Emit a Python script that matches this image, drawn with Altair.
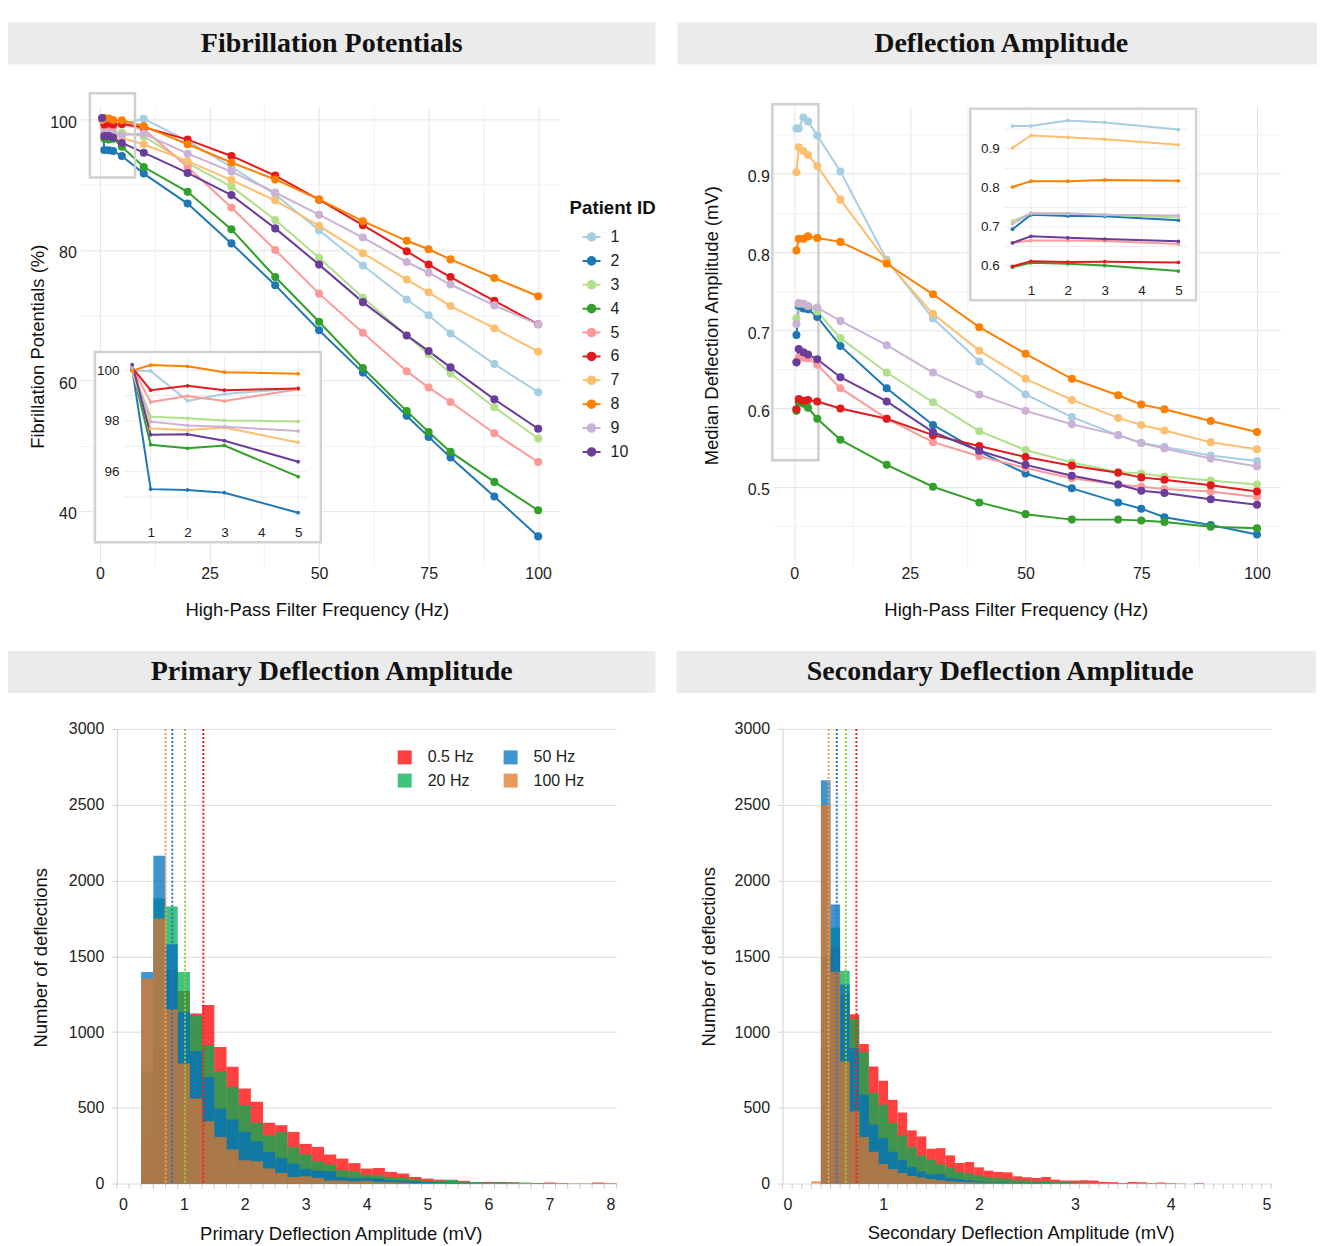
import altair as alt
import pandas as pd

# ---------------------------------------------------------------- data
freqs = [0.5, 1, 2, 3, 5, 10, 20, 30, 40, 50, 60, 70, 75, 80, 90, 100]
patient_ids = [1, 2, 3, 4, 5, 6, 7, 8, 9, 10]
patient_colors = ["#a6cee3", "#1f78b4", "#b2df8a", "#33a02c", "#fb9a99",
                  "#e31a1c", "#fdbf6f", "#ff7f00", "#cab2d6", "#6a3d9a"]

# Fibrillation potentials (%)
fib_1 = [99.98, 99.97, 98.79, 99.06, 99.28, 100.1, 96.7, 92.7, 88.5, 83.0, 77.6, 72.4, 70.0, 67.2, 62.5, 58.2]
fib_2 = [100.05, 95.31, 95.28, 95.17, 94.38, 91.7, 87.1, 81.0, 74.6, 67.7, 61.2, 54.6, 51.35, 48.2, 42.2, 36.1]
fib_3 = [100.05, 98.16, 98.1, 98.02, 97.98, 97.4, 93.3, 89.7, 84.6, 78.8, 72.7, 66.9, 64.0, 61.05, 55.9, 51.1]
fib_4 = [100.05, 97.06, 96.92, 97.03, 95.8, 92.7, 88.9, 83.15, 75.85, 69.0, 61.9, 55.3, 52.1, 49.05, 44.45, 40.1]
fib_5 = [100.1, 98.74, 98.98, 98.78, 99.25, 98.5, 92.7, 86.5, 80.0, 73.3, 67.3, 61.4, 58.9, 56.7, 51.9, 47.5]
fib_6 = [100.1, 99.21, 99.38, 99.21, 99.28, 98.8, 96.9, 94.4, 91.4, 87.7, 83.8, 79.8, 77.75, 75.85, 72.2, 68.6]
fib_7 = [99.95, 97.7, 97.64, 97.74, 97.15, 96.2, 93.6, 90.7, 87.6, 83.7, 79.5, 75.45, 73.5, 71.4, 68.0, 64.4]
fib_8 = [99.98, 100.2, 100.15, 99.92, 99.86, 98.97, 96.2, 93.4, 90.8, 87.75, 84.4, 81.4, 80.1, 78.55, 75.7, 72.9]
fib_9 = [100.1, 97.97, 97.82, 97.77, 97.6, 97.8, 94.75, 92.0, 88.8, 85.4, 81.9, 78.15, 76.5, 74.7, 71.5, 68.6]
fib_10 = [100.22, 97.45, 97.47, 97.22, 96.39, 94.9, 91.8, 88.4, 83.3, 77.75, 72.0, 66.9, 64.5, 62.0, 57.1, 52.6]
fib_series = [fib_1, fib_2, fib_3, fib_4, fib_5, fib_6, fib_7, fib_8, fib_9, fib_10]

# Median deflection amplitude (mV)
amp_1 = [0.958, 0.958, 0.972, 0.967, 0.949, 0.903, 0.790, 0.715, 0.660, 0.618, 0.589, 0.566, 0.556, 0.551, 0.540, 0.533]
amp_2 = [0.694, 0.731, 0.728, 0.727, 0.717, 0.680, 0.626, 0.579, 0.545, 0.517, 0.498, 0.480, 0.472, 0.461, 0.451, 0.439]
amp_3 = [0.715, 0.734, 0.734, 0.731, 0.724, 0.690, 0.646, 0.608, 0.571, 0.547, 0.531, 0.519, 0.517, 0.513, 0.508, 0.503]
amp_4 = [0.597, 0.608, 0.606, 0.601, 0.587, 0.560, 0.528, 0.500, 0.480, 0.465, 0.458, 0.458, 0.457, 0.455, 0.449, 0.447]
amp_5 = [0.659, 0.665, 0.665, 0.664, 0.656, 0.626, 0.587, 0.557, 0.539, 0.524, 0.511, 0.503, 0.500, 0.497, 0.494, 0.487]
amp_6 = [0.599, 0.612, 0.610, 0.611, 0.609, 0.600, 0.587, 0.566, 0.552, 0.538, 0.527, 0.518, 0.512, 0.509, 0.502, 0.494]
amp_7 = [0.902, 0.934, 0.929, 0.924, 0.910, 0.867, 0.788, 0.721, 0.674, 0.638, 0.611, 0.588, 0.579, 0.572, 0.557, 0.548]
amp_8 = [0.802, 0.817, 0.817, 0.820, 0.818, 0.813, 0.785, 0.746, 0.704, 0.670, 0.638, 0.617, 0.605, 0.599, 0.584, 0.570]
amp_9 = [0.708, 0.735, 0.734, 0.731, 0.729, 0.712, 0.681, 0.646, 0.618, 0.597, 0.580, 0.566, 0.556, 0.549, 0.536, 0.526]
amp_10 = [0.659, 0.676, 0.672, 0.669, 0.663, 0.640, 0.609, 0.570, 0.546, 0.528, 0.514, 0.503, 0.495, 0.492, 0.484, 0.477]
amp_series = [amp_1, amp_2, amp_3, amp_4, amp_5, amp_6, amp_7, amp_8, amp_9, amp_10]

# histogram series
hz_names = ["0.5 Hz", "20 Hz", "50 Hz", "100 Hz"]
hz_colors = ["#ff0000", "#00b050", "#0070c0", "#e07828"]
hz_opacity = [0.75, 0.75, 0.75, 0.85]
median_colors = ["#ff1a1a", "#92c84a", "#2a6fd6", "#f2a05c"]

# primary deflection amplitude, bins 0.2 mV wide, centres 0.4 ... 8.0
prim_centers = [round(0.4 + 0.2 * i, 2) for i in range(39)]
prim_05 = [300, 900, 1414, 1271, 1123, 1178, 901, 771, 628, 540, 401, 385, 341, 262, 242, 192, 165, 135, 99, 103,
           77, 66, 44, 33, 26, 20, 18, 9, 11, 11, 9, 4, 4, 7, 4, 2, 2, 7, 4]
prim_20 = [740, 1883, 1828, 1396, 1112, 912, 742, 639, 518, 401, 317, 339, 240, 192, 148, 126, 88, 81, 59, 55,
           44, 40, 29, 18, 18, 26, 11, 9, 7, 9, 7, 7, 4, 2, 2, 1, 1, 2, 1]
prim_50 = [1396, 2163, 1579, 1132, 874, 703, 496, 423, 341, 280, 209, 170, 132, 97, 86, 81, 44, 37, 37, 33,
           22, 18, 15, 11, 7, 4, 4, 3, 2, 2, 1, 1, 1, 1, 0, 0, 0, 0, 0]
prim_100 = [1352, 1749, 1150, 793, 562, 412, 308, 225, 154, 148, 99, 70, 44, 48, 37, 20, 20, 15, 18, 11,
            9, 7, 4, 4, 2, 1, 1, 0, 0, 0, 0, 0, 0, 0, 0, 0, 0, 0, 0]
prim_medians = [1.32, 1.02, 0.81, 0.70]

# secondary deflection amplitude, bins 0.1 mV wide, centres 0.3 ... 4.3
sec_centers = [round(0.3 + 0.1 * i, 2) for i in range(41)]
sec_05 = [0, 900, 1557, 1250, 1118, 921, 772, 678, 553, 469, 351, 311, 230, 234, 186, 136, 142, 107, 85, 77,
          74, 48, 42, 37, 44, 26, 20, 20, 22, 20, 11, 9, 4, 11, 9, 4, 7, 4, 2, 0, 4]
sec_20 = [0, 1500, 1689, 1404, 1086, 866, 600, 520, 400, 320, 240, 185, 155, 128, 110, 77, 66, 53, 42, 37,
          31, 22, 20, 15, 18, 11, 9, 7, 7, 4, 4, 4, 4, 2, 2, 2, 1, 1, 0, 0, 0]
sec_50 = [0, 2662, 1842, 1314, 893, 586, 390, 300, 210, 155, 110, 80, 62, 64, 37, 30, 22, 15, 9, 9,
          6, 5, 4, 4, 3, 2, 2, 1, 0, 0, 0, 0, 0, 0, 0, 0, 0, 0, 0, 0, 0]
sec_100 = [15, 2498, 1397, 805, 476, 307, 210, 130, 95, 70, 50, 40, 30, 22, 15, 11, 9, 7, 5, 4,
           3, 2, 2, 1, 0, 0, 0, 0, 0, 0, 0, 0, 0, 0, 0, 0, 0, 0, 0, 0, 0]
sec_medians = [0.72, 0.61, 0.515, 0.43]

# zoom boxes (data coordinates: x0, x1, y0, y1)
zoom_box_fib = [-2.3, 8.0, 91.1, 104.0]
zoom_box_amp = [-4.7, 5.25, 0.534, 0.989]

# ---------------------------------------------------------------- style
FONT = "Liberation Sans"
SERIF = "Liberation Serif"
BANNER = "#ebebeb"
GRID_MAJOR = "#e4e4e4"
GRID_MINOR = "#f0f0f0"
ROW1_H = 618
ROW2_H = 590


def long_df(series):
    rows = []
    for pid, vals in zip(patient_ids, series):
        for f, v in zip(freqs, vals):
            rows.append({"patient": pid, "freq": f, "value": v})
    return pd.DataFrame(rows)


def frame_layers(width, height, text):
    d = alt.Data(values=[{"t": text}])
    rect = alt.Chart(d).mark_rect(fill=BANNER).encode(
        x=alt.value(0), x2=alt.value(width), y=alt.value(0), y2=alt.value(42))
    txt = alt.Chart(d).mark_text(font=SERIF, fontSize=28, fontWeight="bold", color="#111111",
                                 align="center", baseline="middle").encode(
        x=alt.value(324), y=alt.value(21.5), text="t:N")
    spacer = alt.Chart(d).mark_rect(fill="white").encode(
        x=alt.value(0), x2=alt.value(10), y=alt.value(height - 4), y2=alt.value(height))
    return [rect, txt, spacer]


def line_panel(series, GW, xr, yr, ydom, yvals, ymajor, yfmt, ytitle, ytitle_xy, xtitle_xy,
               box, inset_box, ixr, iyr, inset_ydom, inset_yvals, inset_ygrid, title, legend):
    H = ROW1_H
    df = long_df(series)
    xdom = [-4.475, 104.975]
    x_main = alt.X("freq:Q",
                   scale=alt.Scale(domain=xdom, range=xr, nice=False, zero=False),
                   axis=alt.Axis(values=[0, 12.5, 25, 37.5, 50, 62.5, 75, 87.5, 100],
                                 labelExpr="datum.value % 25 === 0 ? datum.label : ''",
                                 format="d",
                                 gridColor={"condition": {"test": "datum.value % 25 === 0", "value": GRID_MAJOR},
                                            "value": GRID_MINOR},
                                 ticks=False, tickSize=0, domain=False, labelPadding=9,
                                 labelFlush=False, labelOverlap=False, offset=-(H - yr[1]),
                                 title="High-Pass Filter Frequency (Hz)",
                                 titleX=xtitle_xy[0], titleY=xtitle_xy[1], titleBaseline="middle"))
    y_main = alt.Y("value:Q",
                   scale=alt.Scale(domain=ydom, range=[yr[1], yr[0]], nice=False, zero=False),
                   axis=alt.Axis(values=yvals, labelExpr=ymajor + " ? datum.label : ''", format=yfmt,
                                 gridColor={"condition": {"test": ymajor, "value": GRID_MAJOR},
                                            "value": GRID_MINOR},
                                 ticks=False, tickSize=0, domain=False, labelPadding=4, labelOffset=3,
                                 labelOverlap=False, labelFlush=False, offset=-xr[0],
                                 title=ytitle, titleX=ytitle_xy[0], titleY=ytitle_xy[1],
                                 titleBaseline="middle"))
    if legend:
        lg = alt.Legend(title="Patient ID", orient="none", legendX=562, legendY=177, padding=0,
                        titleFontSize=18.7, titleFontWeight="bold", titleColor="#111111", titlePadding=9,
                        labelFontSize=16, labelColor="#222222", labelOffset=9,
                        symbolType="M-1,0L1,0M-0.42,0A0.42,0.42,0,1,1,0.42,0A0.42,0.42,0,1,1,-0.42,0Z",
                        symbolSize=324, symbolStrokeWidth=2, symbolOffset=12, rowPadding=5.9)
        color = alt.Color("patient:O", scale=alt.Scale(domain=patient_ids, range=patient_colors), legend=lg)
    else:
        color = alt.Color("patient:O", scale=alt.Scale(domain=patient_ids, range=patient_colors), legend=None)

    base = alt.Chart(df)
    lines = base.mark_line(strokeWidth=2).encode(x=x_main, y=y_main, color=color, detail="patient:O")
    pts = base.mark_circle(size=65, opacity=1).encode(x=x_main, y=y_main, color=color)
    bx = alt.Chart(pd.DataFrame({"freq": [box[0]], "freq2": [box[1]], "value": [box[2]], "value2": [box[3]]}))
    boxmark = bx.mark_rect(fillOpacity=0, stroke="#cfcfcf", strokeWidth=2.5).encode(
        x=x_main, x2="freq2:Q", y=y_main, y2="value2:Q")
    main = alt.layer(*frame_layers(GW, H, title), lines, boxmark, pts)

    # inset
    x_in = alt.X("freq:Q",
                 scale=alt.Scale(domain=[0.275, 5.225], range=ixr, nice=False, zero=False),
                 axis=alt.Axis(orient="bottom", offset=-(H - iyr[1]), values=[1, 2, 3, 4, 5], format="d",
                               grid=False, domain=False, ticks=False, tickSize=0, labelPadding=5,
                               labelFontSize=13.5, labelFlush=False, title="", zindex=1))
    y_in = alt.Y("value:Q",
                 scale=alt.Scale(domain=inset_ydom, range=[iyr[1], iyr[0]], nice=False, zero=False),
                 axis=alt.Axis(orient="left", offset=-ixr[0], values=inset_yvals,
                               grid=False, domain=False, ticks=False, tickSize=0, labelPadding=5,
                               labelFontSize=13.5, labelFlush=False, title="", zindex=1))
    idf = df[df["freq"] <= 5]
    ibox = alt.Chart(alt.Data(values=[{}])).mark_rect(fill="white", stroke="#d2d2d2", strokeWidth=2.5).encode(
        x=alt.value(inset_box[0]), x2=alt.value(inset_box[1]), y=alt.value(inset_box[2]), y2=alt.value(inset_box[3]))
    vgrid = alt.Chart(pd.DataFrame({"freq": [1, 2, 3, 4, 5]})).mark_rule(color="#ececec", strokeWidth=1).encode(
        x=x_in, y=alt.value(iyr[0]), y2=alt.value(iyr[1]))
    hgrid = alt.Chart(pd.DataFrame({"value": inset_ygrid})).mark_rule(color="#ececec", strokeWidth=1).encode(
        y=y_in, x=alt.value(ixr[0]), x2=alt.value(ixr[1]))
    ibase = alt.Chart(idf)
    ilines = ibase.mark_line(strokeWidth=2).encode(x=x_in, y=y_in, color=color, detail="patient:O")
    ipts = ibase.mark_circle(size=14, opacity=1).encode(x=x_in, y=y_in, color=color)
    inset = alt.layer(ibox, vgrid, hgrid, ilines, ipts)

    return alt.layer(main, inset).resolve_scale(x="independent", y="independent").properties(width=GW, height=H)


def hist_panel(centers, s05, s20, s50, s100, medians, half, GW, xr, yr, xdom, ints, xtitle, xtitle_xy,
               ytitle_xy, title, legend):
    H = ROW2_H
    rows = []
    for name, vals in zip(hz_names, [s05, s20, s50, s100]):
        for c, v in zip(centers, vals):
            rows.append({"series": name, "x0": round(c - half, 3), "x1": round(c + half, 3), "count": v})
    hdf = pd.DataFrame(rows)
    mdf = pd.DataFrame({"series": hz_names, "x0": medians})
    n_edges = int(round((xdom[1] - xdom[0]) / (2 * half))) + 1
    edf = pd.DataFrame({"x0": [round(xdom[0] + 2 * half * k, 3) for k in range(n_edges)]})

    hx = alt.X("x0:Q", scale=alt.Scale(domain=xdom, range=xr, nice=False, zero=False),
               axis=alt.Axis(values=ints, format="d", ticks=False, tickSize=0, grid=False, domain=False,
                             labelPadding=13, labelFlush=False, labelOverlap=False, offset=-(H - yr[1]),
                             title=xtitle, titleX=xtitle_xy[0], titleY=xtitle_xy[1], titleBaseline="middle"))
    hy = alt.Y("count:Q", stack=False, scale=alt.Scale(domain=[0, 3000], range=[yr[1], yr[0]], nice=False, zero=True),
               axis=alt.Axis(values=[0, 500, 1000, 1500, 2000, 2500, 3000], format="d",
                             gridColor="#dcdcdc", domainColor="#d0d0d0", tickColor="#d0d0d0",
                             tickSize=5, labelPadding=8, labelFlush=False, offset=-xr[0],
                             title="Number of deflections", titleX=ytitle_xy[0], titleY=ytitle_xy[1],
                             titleBaseline="middle"))
    if legend:
        lg = alt.Legend(title=None, orient="none", legendX=389, legendY=98.5, padding=0, columns=2,
                        symbolType="square", symbolSize=196, symbolStrokeWidth=0, symbolOpacity=0.9,
                        labelFontSize=16, labelColor="#222222", labelOffset=15,
                        columnPadding=28, rowPadding=7.2)
        fill = alt.Fill("series:N", scale=alt.Scale(domain=hz_names, range=hz_colors), legend=lg)
    else:
        fill = alt.Fill("series:N", scale=alt.Scale(domain=hz_names, range=hz_colors), legend=None)
    opac = alt.Opacity("series:N", scale=alt.Scale(domain=hz_names, range=hz_opacity), legend=None)

    bars = alt.Chart(hdf).mark_rect().encode(x=hx, x2="x1:Q", y=hy, y2=alt.datum(0), fill=fill, opacity=opac)
    ticks = alt.Chart(edf).mark_rule(color="#c8c8c8", strokeWidth=1).encode(
        x=hx, y=alt.value(yr[1]), y2=alt.value(yr[1] + 5))
    rules = alt.Chart(mdf).mark_rule(strokeDash=[2, 2], strokeWidth=2).encode(
        x=hx, y=alt.value(yr[0]), y2=alt.value(yr[1]),
        stroke=alt.Stroke("series:N", scale=alt.Scale(domain=hz_names, range=median_colors), legend=None))
    return alt.layer(*frame_layers(GW, H, title), ticks, bars, rules).properties(width=GW, height=H)


p1 = line_panel(fib_series, 648, [72.4, 552.4], [74.5, 534.5], [33.01, 103.45], [40, 50, 60, 70, 80, 90, 100],
                "datum.value % 20 === 0", "d", "Fibrillation Potentials (%)", (-42.4, 324), (309, 52.5),
                zoom_box_fib, [87, 313, 329.7, 520.3], [116, 298.7], [335, 498],
                [94.09, 100.51], [96, 98, 100], [95, 96, 97, 98, 99, 100],
                "Fibrillation Potentials", True)

p2 = line_panel(amp_series, 640, [96, 603], [74.5, 534.5], [0.4108, 0.9983],
                [0.45, 0.5, 0.55, 0.6, 0.65, 0.7, 0.75, 0.8, 0.85, 0.9, 0.95],
                "abs(datum.value * 10 - round(datum.value * 10)) < 0.001", ".1f",
                "Median Deflection Amplitude (mV)", (-61.5, 303), (338.5, 52.5),
                zoom_box_amp, [293, 519, 86.3, 278], [326.95, 509.6], [90.6, 256.3],
                [0.5678, 0.9913], [0.6, 0.7, 0.8, 0.9], [0.6, 0.65, 0.7, 0.75, 0.8, 0.85, 0.9, 0.95],
                "Deflection Amplitude", False)

p3 = hist_panel(prim_centers, prim_05, prim_20, prim_50, prim_100, prim_medians, 0.1, 648,
                [108.9, 608.9], [78, 533], [-0.1, 8.1], list(range(0, 9)),
                "Primary Deflection Amplitude (mV)", (333, 50), (-75.9, 306.5),
                "Primary Deflection Amplitude", True)

p4 = hist_panel(sec_centers, sec_05, sec_20, sec_50, sec_100, sec_medians, 0.05, 640,
                [106.2, 595.2], [78, 533], [-0.05, 5.05], list(range(0, 6)),
                "Secondary Deflection Amplitude (mV)", (344.5, 49), (-74.2, 305.5),
                "Secondary Deflection Amplitude", False)

row1 = alt.hconcat(p1, p2, spacing=21).resolve_scale(color="independent").resolve_legend(color="independent")
row2 = alt.hconcat(p3, p4, spacing=21).resolve_scale(
    fill="independent", stroke="independent", opacity="independent").resolve_legend(
    fill="independent", stroke="independent", opacity="independent")

chart = alt.vconcat(row1, row2, spacing=11).resolve_scale(
    color="independent", fill="independent", stroke="independent", opacity="independent").properties(
    padding={"left": 0, "top": 14, "right": 0, "bottom": 0}
).configure_view(strokeWidth=0).configure_axis(
    labelFont=FONT, titleFont=FONT, labelFontSize=16, titleFontSize=18.5,
    labelColor="#222222", titleColor="#111111", titleFontWeight="normal"
).configure_legend(labelFont=FONT, titleFont=FONT)

chart.save("out.html", embed_options={"renderer": "svg", "actions": False})
